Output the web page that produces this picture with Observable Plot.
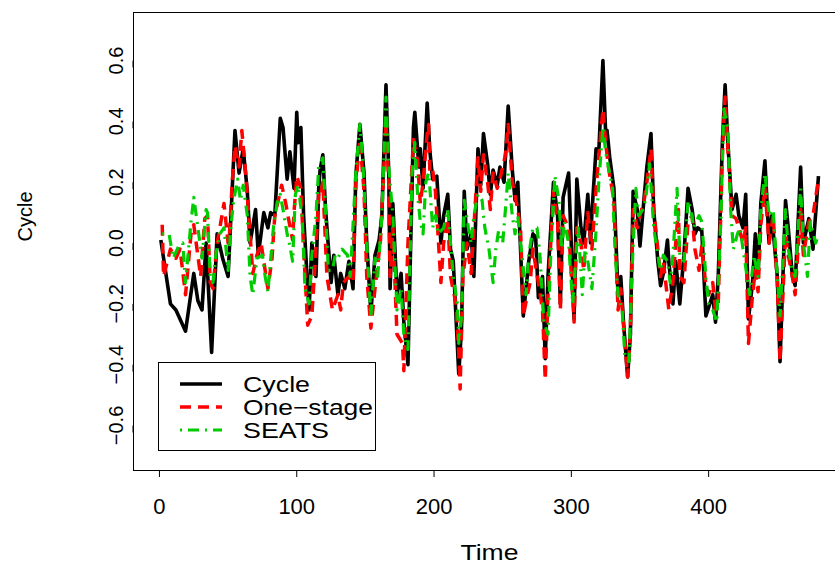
<!DOCTYPE html>
<html>
<head>
<meta charset="utf-8">
<script src="https://cdn.jsdelivr.net/npm/d3@7"></script>
<script src="https://cdn.jsdelivr.net/npm/@observablehq/plot@0.6"></script>
<style>
  body { margin: 0; background: #fff; }
  #wrap { position: relative; width: 835px; height: 569px; font-family: "Liberation Sans", Arial, Helvetica, sans-serif; }
  #legend { position: absolute; left: 0; top: 0; pointer-events: none; }
</style>
</head>
<body>
<div id="wrap"></div>
<script>
// ---- data ----
const seriesNames = ["Cycle", "One-stage", "SEATS"];
const seriesLabels = ["Cycle", "One\u2212stage", "SEATS"];
const xTicks = [0, 100, 200, 300, 400];
const yTicks = [-0.6, -0.4, -0.2, 0.0, 0.2, 0.4, 0.6];

const cycleT = [1,8,12,19,25,28,31,34,38,42,46,50,55,58,61,64,66,70,72,76,79,81,84,88,90,93,95,98,100,101,103,105,108,109,111,114,116,117,119,121,125,127,130,132,135,138,141,143,146,149,151,154,157,160,162,165,167,168,170,173,176,178,181,183,185,186,189,190,192,195,197,199,202,205,207,210,212,214,218,220,222,224,227,229,232,234,236,239,241,243,246,248,251,254,257,259,261,265,269,272,274,276,279,281,283,287,290,292,294,298,302,304,307,309,312,314,315,318,320,323,325,326,328,331,334,336,338,341,343,345,348,350,353,355,358,360,363,365,367,370,371,374,376,379,382,385,388,390,392,395,398,403,405,407,410,412,414,417,420,422,425,427,429,432,434,436,438,441,444,446,450,452,456,458,461,463,467,469,473,476,480];
const cycleV = [0.01,-0.20,-0.22,-0.29,-0.10,-0.19,-0.22,0.00,-0.36,0.03,-0.05,-0.11,0.37,0.23,0.31,0.17,0.00,0.11,-0.04,0.10,0.05,0.10,0.09,0.41,0.38,0.21,0.30,0.18,0.43,0.33,0.38,0.09,-0.15,-0.22,0.00,-0.11,0.18,0.24,0.29,0.11,-0.13,-0.04,-0.17,-0.10,-0.15,-0.06,-0.15,0.22,0.39,0.23,0.00,-0.23,-0.04,0.01,0.09,0.52,0.23,-0.15,0.13,-0.17,-0.10,-0.26,-0.40,0.00,0.38,0.43,0.25,0.31,0.18,0.46,0.30,0.21,0.22,0.00,0.09,0.16,-0.02,-0.06,-0.43,-0.28,0.17,-0.02,0.03,-0.11,0.31,0.19,0.36,0.26,0.16,0.24,0.19,0.25,0.20,0.45,0.24,0.14,0.20,-0.24,-0.06,0.03,0.02,-0.18,-0.11,-0.38,-0.11,0.20,0.09,-0.20,0.15,0.23,-0.25,0.21,0.05,0.00,0.16,0.00,0.10,0.31,0.30,0.60,0.36,0.37,0.28,0.18,-0.17,-0.11,-0.26,-0.44,-0.30,0.17,0.11,-0.01,0.15,0.25,0.36,0.11,-0.06,-0.14,-0.10,0.01,-0.06,-0.20,-0.06,-0.20,-0.04,0.18,0.11,0.03,0.05,0.04,-0.24,-0.17,-0.26,-0.11,0.33,0.52,0.33,0.11,0.16,0.09,0.05,0.16,-0.25,-0.13,0.03,-0.11,0.13,0.27,0.00,0.09,-0.11,-0.39,0.14,0.05,-0.11,-0.14,0.25,0.00,0.08,-0.02,0.22];

const oneStageT = [2,3,8,12,15,19,23,25,30,33,35,37,39,42,44,47,50,51,53,55,58,60,63,65,68,71,74,76,79,82,84,87,89,92,94,97,98,100,103,105,108,111,114,116,117,119,122,126,130,132,134,138,141,143,146,149,151,154,157,161,165,167,168,170,173,177,178,181,185,188,190,192,195,196,197,199,201,205,207,210,212,216,218,219,221,224,227,229,232,234,236,239,241,243,246,248,252,254,257,261,263,265,268,270,272,276,279,281,283,287,290,292,294,298,302,304,307,309,312,315,318,323,325,327,331,334,336,338,341,343,345,348,350,353,355,358,360,363,365,367,371,374,376,378,379,382,385,388,390,393,395,398,400,403,405,407,410,412,414,417,420,422,425,427,429,432,434,436,438,441,444,447,450,452,456,458,461,463,467,469,473,476,480];
const oneStageV = [0.06,-0.11,-0.02,-0.05,-0.02,-0.17,0.03,0.06,-0.11,0.08,0.09,-0.13,-0.15,0.00,0.05,0.13,0.00,0.03,0.20,0.32,0.25,0.37,0.22,0.09,-0.10,-0.04,0.00,-0.06,-0.15,-0.05,0.09,0.15,0.19,0.13,0.08,0.01,0.10,0.22,0.18,-0.02,-0.27,-0.24,-0.02,0.16,0.15,0.20,-0.11,-0.22,-0.17,-0.22,-0.13,-0.11,-0.13,0.19,0.34,0.17,-0.11,-0.28,-0.15,0.01,0.40,0.20,-0.11,0.05,-0.30,-0.33,-0.42,0.00,0.34,0.27,0.13,0.20,0.36,0.39,0.23,0.24,0.17,-0.13,0.00,0.08,-0.11,-0.20,-0.36,-0.48,-0.11,0.00,-0.10,0.05,0.28,0.17,0.29,0.20,0.11,0.23,0.18,0.21,0.29,0.39,0.20,0.11,0.05,-0.24,-0.17,-0.13,-0.02,-0.13,-0.22,-0.45,-0.17,0.17,0.07,-0.22,0.09,0.05,-0.26,0.05,0.00,-0.09,0.10,-0.02,0.18,0.44,0.33,0.25,0.14,-0.22,-0.15,-0.27,-0.44,-0.30,0.11,0.05,0.09,0.14,0.20,0.31,0.11,-0.02,-0.11,-0.06,-0.22,-0.13,0.00,0.11,-0.11,-0.13,0.07,0.09,-0.02,-0.09,-0.01,-0.14,-0.17,-0.13,-0.22,-0.20,0.29,0.48,0.31,0.09,0.08,0.05,0.00,0.05,-0.33,-0.17,-0.09,-0.16,0.06,0.18,0.00,0.09,-0.13,-0.39,0.03,-0.04,-0.11,-0.17,0.11,-0.04,0.07,0.09,0.21];

const seatsT = [2,7,10,14,17,19,23,25,28,31,34,35,37,39,41,44,47,50,52,54,57,59,61,64,66,68,71,75,77,79,83,86,88,90,93,95,97,99,101,104,106,109,111,114,116,119,121,123,126,128,130,133,137,139,143,146,148,151,154,157,159,162,165,167,170,173,176,178,181,184,186,188,190,192,194,196,197,199,201,203,207,210,212,214,217,218,220,222,225,227,229,232,235,237,240,243,245,247,250,252,254,257,259,261,264,267,269,272,275,277,280,283,285,288,291,293,295,298,301,303,305,308,310,312,315,318,320,323,325,327,330,332,334,337,339,342,344,347,349,352,354,357,360,363,365,367,370,372,374,377,379,382,385,387,389,393,395,398,400,403,406,409,411,414,416,418,421,423,425,428,430,433,436,438,441,444,447,450,452,456,458,461,463,467,469,472,474,478,480];
const seatsV = [0.03,0.03,-0.05,-0.01,0.00,-0.13,0.07,0.15,0.05,-0.05,0.11,0.10,-0.11,-0.13,-0.04,0.03,0.05,-0.09,0.05,0.14,0.21,0.14,0.19,0.09,-0.11,-0.17,-0.05,-0.04,-0.11,-0.16,0.05,0.14,0.16,0.11,0.03,-0.01,-0.06,0.16,0.19,0.08,-0.15,-0.20,-0.04,0.09,0.25,0.28,0.11,-0.09,-0.09,-0.04,-0.05,-0.02,-0.04,-0.11,0.23,0.39,0.28,0.00,-0.24,-0.05,-0.11,0.09,0.48,0.25,0.09,-0.22,-0.15,-0.30,-0.35,0.23,0.33,0.16,0.07,0.03,0.20,0.23,0.18,0.05,0.09,0.03,0.05,0.11,0.00,-0.11,-0.20,-0.33,-0.24,0.14,0.05,0.00,0.09,0.16,0.14,0.05,-0.02,-0.13,-0.02,0.04,0.00,0.11,0.23,0.09,0.03,0.09,-0.04,-0.17,-0.04,0.05,0.05,-0.03,-0.26,-0.30,-0.04,0.22,0.14,-0.02,0.07,0.00,-0.20,-0.06,0.05,-0.17,-0.02,-0.06,-0.15,0.04,0.20,0.38,0.30,0.25,0.18,-0.04,-0.17,-0.22,-0.37,-0.39,-0.11,0.18,0.09,0.11,0.14,0.26,0.05,-0.04,-0.09,-0.04,-0.06,-0.13,-0.04,0.18,-0.04,-0.06,0.14,0.11,0.05,0.09,0.07,-0.11,-0.20,-0.22,-0.26,0.09,0.44,0.38,0.11,-0.02,0.03,0.05,-0.02,-0.11,-0.17,-0.04,-0.11,0.11,0.23,0.09,0.11,-0.11,-0.24,0.11,-0.02,-0.09,-0.11,0.18,0.00,-0.11,0.07,0.00,0.03];

// ---- styles ----
const colors = {"Cycle": "#000000", "One-stage": "#FF0000", "SEATS": "#00CD00"};
const dashes = {"Cycle": null, "One-stage": "11,7", "SEATS": "2,6,11,6"};
const widths = {"Cycle": 3.6, "One-stage": 3.5, "SEATS": 3.2};
const FONT = "\"Liberation Sans\", Arial, Helvetica, sans-serif";
const fmt = d => d.toFixed(1).replace("-", "\u2212");

const toRows = (T, V) => T.map((t, i) => ({t, v: V[i]}));
const rows = {
  "Cycle": toRows(cycleT, cycleV),
  "One-stage": toRows(oneStageT, oneStageV),
  "SEATS": toRows(seatsT, seatsV)
};

const lineMark = name => Plot.line(rows[name], {
  x: "t", y: "v", stroke: colors[name], strokeWidth: widths[name],
  strokeDasharray: dashes[name], strokeLinejoin: "round", strokeLinecap: "butt"
});

const chart = Plot.plot({
  width: 835, height: 569,
  marginLeft: 133, marginRight: 0, marginTop: 12, marginBottom: 99,
  style: {fontFamily: FONT, background: "#fff", color: "#000"},
  x: {domain: [-18.9, 492.4]},
  y: {domain: [-0.748, 0.758]},
  marks: [
    ...seriesNames.map(lineMark),
    Plot.frame({anchor: "top", stroke: "#000"}),
    Plot.frame({anchor: "bottom", stroke: "#000"}),
    Plot.frame({anchor: "left", stroke: "#000"}),
    Plot.axisX({ticks: xTicks, tickSize: 7, tickPadding: 21, fontSize: 22, label: null, tickFormat: d => String(d), stroke: "#000"}),
    Plot.axisY({ticks: yTicks, tickSize: 7, tickPadding: 10, fontSize: 20, label: null, tickFormat: fmt, rotate: -90, textAnchor: "middle", stroke: "#000"}),
    Plot.text(["Time"], {frameAnchor: "bottom", dx: 5, dy: 89, fontSize: 22, text: d => d}),
    Plot.text(["Cycle"], {frameAnchor: "left", dx: -108, rotate: -90, fontSize: 20, text: d => d})
  ]
});

const wrap = document.getElementById("wrap");
wrap.appendChild(chart);
d3.select(chart).selectAll("text").filter(function() { return this.textContent === "Time"; })
  .attr("textLength", 58).attr("lengthAdjust", "spacingAndGlyphs");

// ---- legend (R style box, top-left inside plot) ----
const legendLengths = [67, 130, 86];
const leg = d3.create("svg").attr("id", "legend").attr("width", 835).attr("height", 569);
leg.append("rect").attr("x", 158.5).attr("y", 362.5).attr("width", 217).attr("height", 88)
  .attr("fill", "#fff").attr("stroke", "#000");
seriesNames.forEach((name, i) => {
  const y = 384 + i * 23;
  leg.append("line").attr("x1", 180).attr("x2", 222).attr("y1", y).attr("y2", y)
    .attr("stroke", colors[name]).attr("stroke-width", widths[name])
    .attr("stroke-dasharray", dashes[name]);
  leg.append("text").attr("x", 243).attr("y", y).attr("dy", "0.35em")
    .attr("font-family", FONT).attr("font-size", 22)
    .attr("textLength", legendLengths[i]).attr("lengthAdjust", "spacingAndGlyphs")
    .text(seriesLabels[i]);
});
wrap.appendChild(leg.node());
</script>
</body>
</html>
